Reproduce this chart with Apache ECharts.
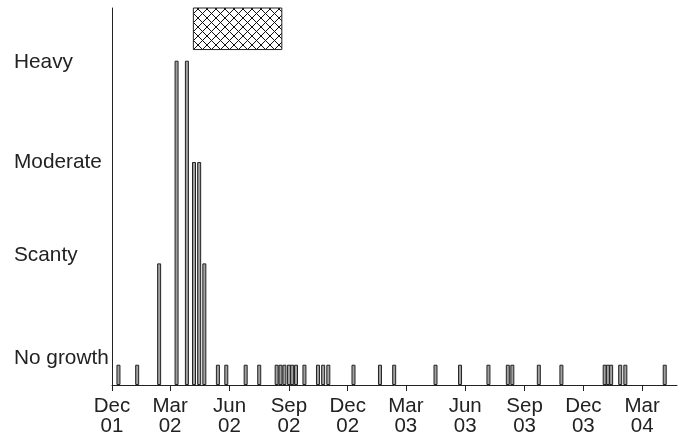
<!DOCTYPE html>
<html>
<head>
<meta charset="utf-8">
<script src="https://cdn.jsdelivr.net/npm/echarts@6/dist/echarts.min.js"></script>
<style>html,body{margin:0;padding:0;background:#fff}#c{width:680px;height:437px}</style>
</head>
<body>
<div id="c"></div>
<script>
const categories = ['No growth', 'Scanty', 'Moderate', 'Heavy'];
const sampleDates = [
  '2001-12-11','2002-01-09','2002-02-12','2002-03-11','2002-03-27','2002-04-07','2002-04-15','2002-04-23',
  '2002-05-14','2002-05-27','2002-06-26','2002-07-17','2002-08-13','2002-08-19','2002-08-25','2002-09-01',
  '2002-09-06','2002-09-12','2002-09-25','2002-10-16','2002-10-24','2002-11-01','2002-12-10','2003-01-20',
  '2003-02-11','2003-04-16','2003-05-24','2003-07-07','2003-08-06','2003-08-13','2003-09-23','2003-10-28',
  '2004-01-03','2004-01-08','2004-01-13','2004-01-27','2004-02-04','2004-04-05'
];
const growthLevels = [
  0,0,1,3,3,2,2,1,
  0,0,0,0,0,0,0,0,
  0,0,0,0,0,0,0,0,
  0,0,0,0,0,0,0,0,
  0,0,0,0,0,0
];
const tickDates = ['2001-12-01','2002-03-01','2002-06-01','2002-09-01','2002-12-01','2003-03-01','2003-06-01','2003-09-01','2003-12-01','2004-03-01'];
const tickLabels = ['Dec\n01','Mar\n02','Jun\n02','Sep\n02','Dec\n02','Mar\n03','Jun\n03','Sep\n03','Dec\n03','Mar\n04'];
const treatmentPeriod = ['2002-04-06', '2002-08-21'];
const axisStart = '2001-12-01';
const axisEnd = '2004-04-24';

// day number (UTC based, no DST issues)
function t(s) { const p = s.split('-').map(Number); return Date.UTC(p[0], p[1] - 1, p[2]) / 86400000; }

const STUB = 0.2;
const labelPos = [0.26, 1.28, 2.2, 3.18];

const pat = document.createElement('canvas');
pat.width = 9; pat.height = 9;
const g = pat.getContext('2d');
g.fillStyle = '#fff'; g.fillRect(0, 0, 9, 9);
g.strokeStyle = '#111'; g.lineWidth = 1;
g.beginPath();
g.moveTo(-1, -1); g.lineTo(10, 10);
g.moveTo(-1, 10); g.lineTo(10, -1);
g.stroke();

const tickVals = tickDates.map(t);
const chart = echarts.init(document.getElementById('c'), null, { renderer: 'canvas' });
const font = 'Liberation Sans, Arial, sans-serif';
chart.setOption({
  animation: false,
  grid: { left: 112, right: 3, top: 8, bottom: 52, containLabel: false },
  xAxis: {
    type: 'value',
    min: t(axisStart),
    max: t(axisEnd),
    splitLine: { show: false },
    axisLine: { show: true, lineStyle: { color: '#222', width: 1 } },
    axisTick: { show: true, length: 6, lineStyle: { color: '#222' }, customValues: tickVals },
    axisLabel: {
      customValues: tickVals,
      formatter: function (v) { const i = tickVals.indexOf(v); return i >= 0 ? tickLabels[i] : ''; },
      color: '#222', fontSize: 20.5, lineHeight: 20, fontFamily: font, margin: 11
    }
  },
  yAxis: {
    type: 'value',
    min: 0,
    max: 3.72,
    splitLine: { show: false },
    axisLine: { show: true, lineStyle: { color: '#222', width: 1 } },
    axisTick: { show: false },
    axisLabel: {
      customValues: labelPos,
      formatter: function (v) { const i = labelPos.indexOf(v); return i >= 0 ? categories[i] : ''; },
      align: 'left', margin: 98, color: '#222', fontSize: 20.8, fontFamily: font
    }
  },
  series: [{
    type: 'bar',
    barWidth: 4,
    data: sampleDates.map((d, i) => [t(d), growthLevels[i] + STUB]),
    itemStyle: { color: '#a0a0a0', borderColor: '#222', borderWidth: 1 },
    markArea: {
      silent: true,
      itemStyle: { color: { image: pat, repeat: 'repeat' }, borderColor: '#222', borderWidth: 1 },
      data: [[{ xAxis: t(treatmentPeriod[0]), yAxis: 3.31 }, { xAxis: t(treatmentPeriod[1]), yAxis: 3.72 }]]
    }
  }]
});
</script>
</body>
</html>
